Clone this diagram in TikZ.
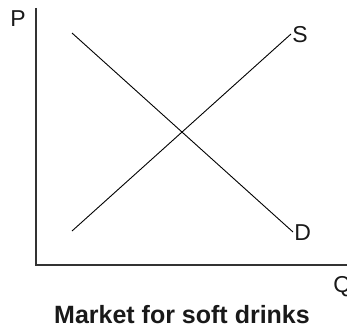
\documentclass[tikz,border=0pt]{standalone}
\usepackage{fontspec}
\setmainfont{Liberation Sans}
\usetikzlibrary{positioning}

\begin{document}
\begin{tikzpicture}[
                    % one unit is one pixel of the picture, y runs downwards
                    x=1pt, y=-1pt,
                    every path/.style={color=black, line width=0.9pt},
                    every node/.style={color=black!90, inner sep=0pt, font=\fontsize{23}{26}\selectfont}
                  ]
  % --- Define dimensions for the plot ---
  \def\Xorig{36}    % x of the vertical axis
  \def\Yorig{265}   % y of the horizontal axis
  \def\Ytop{8}      % top of the vertical axis
  \def\Xend{347}    % end of the horizontal axis

  % --- Define style for the axes ---
  \tikzstyle{axis style}=[color=black!80, line width=1.3pt]

  \useasboundingbox (0,0) rectangle (347,329);

  % --- Axes ---
  \coordinate (O) at (\Xorig, \Yorig);
  \coordinate (Ptop) at (\Xorig, \Ytop);
  \coordinate (Qend) at (\Xend, \Yorig);
  \draw[axis style] (Ptop) -- (O) -- (Qend);

  \node[anchor=base west] (P) at (10, 27) {P};
  \node[anchor=base west] (Q) at (333, 292) {Q};

  % --- Supply and demand ---
  \coordinate (S0) at (72, 231);
  \coordinate (S1) at (291, 34);
  \coordinate (D0) at (72, 33);
  \coordinate (D1) at (293, 232);
  \draw (S0) -- (S1);
  \draw (D0) -- (D1);

  \node[anchor=base west] (S) at (292, 42) {S};
  \node[anchor=base west] (D) at (294, 240) {D};

  % --- Title ---
  \node[anchor=base, font=\fontsize{25}{28}\selectfont\bfseries] (title) at (182, 323) {Market for soft drinks};

\end{tikzpicture}
\end{document}
